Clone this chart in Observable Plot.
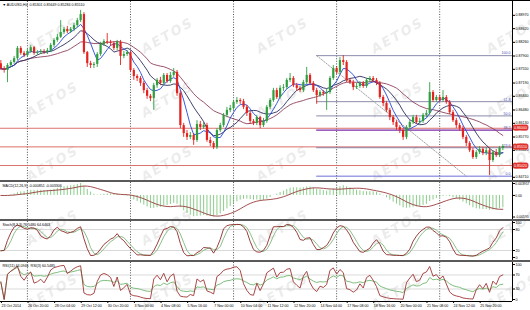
<!DOCTYPE html>
<html><head><meta charset="utf-8">
<script src="https://cdn.jsdelivr.net/npm/d3@7"></script>
<script src="https://cdn.jsdelivr.net/npm/@observablehq/plot@0.6"></script>
<style>
body{margin:0;background:#fff;}
#wrap{position:relative;width:530px;height:310px;overflow:hidden;font-family:"Liberation Sans",Arial,sans-serif;}
#wm{position:absolute;left:0;top:0;}
#panels{position:absolute;left:0;top:0;width:530px;}
#panels svg{display:block;}
</style></head><body>
<div id="wrap">
<svg id="wm" width="530" height="310"><defs><pattern id="aet" width="115" height="64" patternUnits="userSpaceOnUse"><text x="57" y="37" text-anchor="middle" transform="rotate(-30 57 32) skewX(-10)" font-family="DejaVu Sans" font-size="13" font-weight="bold" fill="#ececec" letter-spacing="2">AETOS</text></pattern></defs><rect width="530" height="310" fill="url(#aet)"/></svg>
<div id="panels"></div>
</div>
<script>
// ---- data (AUDUSD H4) ----
const firstOpen = 0.8770;
const closes = [0.8757,0.8752,0.8765,0.8773,0.8783,0.8810,0.8797,0.8791,0.8802,0.8812,
0.8797,0.8799,0.8802,0.8799,0.8804,0.8818,0.8831,0.8839,0.8852,0.8860,
0.8854,0.8860,0.8870,0.8883,0.8899,0.8799,0.8770,0.8765,0.8768,0.8794,
0.8820,0.8828,0.8826,0.8823,0.8810,0.8826,0.8789,0.8794,0.8799,0.8752,
0.8736,0.8731,0.8718,0.8699,0.8684,0.8678,0.8712,0.8726,0.8718,0.8739,
0.8723,0.8739,0.8747,0.8691,0.8607,0.8586,0.8576,0.8581,0.8568,0.8610,
0.8602,0.8607,0.8568,0.8560,0.8549,0.8594,0.8607,0.8634,0.8647,0.8652,
0.8668,0.8673,0.8670,0.8655,0.8639,0.8618,0.8613,0.8628,0.8607,0.8618,
0.8655,0.8673,0.8699,0.8681,0.8705,0.8707,0.8726,0.8731,0.8712,0.8705,
0.8699,0.8720,0.8739,0.8718,0.8699,0.8686,0.8694,0.8691,0.8694,0.8731,
0.8757,0.8747,0.8778,0.8773,0.8726,0.8720,0.8707,0.8710,0.8718,0.8710,
0.8726,0.8731,0.8726,0.8718,0.8681,0.8665,0.8647,0.8628,0.8615,0.8602,
0.8594,0.8576,0.8602,0.8615,0.8628,0.8615,0.8618,0.8634,0.8639,0.8694,
0.8673,0.8681,0.8673,0.8681,0.8668,0.8641,0.8620,0.8607,0.8599,0.8576,
0.8560,0.8541,0.8523,0.8536,0.8544,0.8534,0.8541,0.8515,0.8536,0.8528,
0.8547,0.8552];
const highs = [0.8778,0.8762,0.8770,0.8778,0.8789,0.8815,0.8815,0.8802,0.8807,0.8818,
0.8815,0.8804,0.8807,0.8807,0.8810,0.8823,0.8836,0.8847,0.8883,0.8865,
0.8868,0.8865,0.8876,0.8889,0.8910,0.8904,0.8802,0.8776,0.8773,0.8799,
0.8826,0.8833,0.8849,0.8831,0.8828,0.8831,0.8831,0.8802,0.8804,0.8802,
0.8757,0.8741,0.8736,0.8723,0.8705,0.8689,0.8718,0.8731,0.8734,0.8744,
0.8744,0.8747,0.8757,0.8752,0.8697,0.8613,0.8594,0.8589,0.8586,0.8620,
0.8618,0.8615,0.8613,0.8576,0.8565,0.8599,0.8613,0.8639,0.8655,0.8660,
0.8673,0.8681,0.8678,0.8676,0.8660,0.8644,0.8623,0.8634,0.8631,0.8626,
0.8660,0.8678,0.8705,0.8705,0.8712,0.8715,0.8731,0.8744,0.8736,0.8718,
0.8710,0.8726,0.8760,0.8744,0.8723,0.8705,0.8699,0.8699,0.8702,0.8736,
0.8765,0.8762,0.8786,0.8791,0.8778,0.8731,0.8726,0.8718,0.8723,0.8723,
0.8731,0.8736,0.8736,0.8731,0.8723,0.8686,0.8670,0.8652,0.8634,0.8620,
0.8607,0.8599,0.8607,0.8620,0.8634,0.8634,0.8626,0.8639,0.8647,0.8720,
0.8699,0.8686,0.8686,0.8699,0.8686,0.8673,0.8647,0.8626,0.8613,0.8605,
0.8581,0.8565,0.8547,0.8541,0.8552,0.8549,0.8549,0.8547,0.8541,0.8544,
0.8552,0.8557];
const lows = [0.8752,0.8745,0.8720,0.8760,0.8768,0.8778,0.8792,0.8786,0.8786,0.8797,
0.8792,0.8792,0.8794,0.8794,0.8794,0.8799,0.8812,0.8826,0.8836,0.8847,
0.8849,0.8849,0.8854,0.8865,0.8878,0.8794,0.8760,0.8757,0.8757,0.8760,
0.8789,0.8815,0.8820,0.8815,0.8804,0.8804,0.8765,0.8783,0.8789,0.8747,
0.8726,0.8723,0.8710,0.8691,0.8676,0.8670,0.8647,0.8705,0.8712,0.8712,
0.8718,0.8718,0.8734,0.8684,0.8599,0.8576,0.8568,0.8570,0.8555,0.8563,
0.8594,0.8597,0.8563,0.8552,0.8544,0.8544,0.8589,0.8602,0.8628,0.8641,
0.8647,0.8663,0.8663,0.8649,0.8631,0.8610,0.8607,0.8607,0.8599,0.8602,
0.8613,0.8649,0.8668,0.8676,0.8676,0.8697,0.8702,0.8720,0.8707,0.8697,
0.8694,0.8694,0.8715,0.8712,0.8694,0.8663,0.8681,0.8684,0.8647,0.8689,
0.8726,0.8741,0.8741,0.8765,0.8720,0.8715,0.8699,0.8702,0.8705,0.8705,
0.8705,0.8720,0.8720,0.8712,0.8676,0.8657,0.8641,0.8620,0.8607,0.8594,
0.8586,0.8568,0.8570,0.8597,0.8610,0.8610,0.8610,0.8613,0.8628,0.8634,
0.8668,0.8668,0.8668,0.8668,0.8663,0.8636,0.8615,0.8599,0.8592,0.8570,
0.8552,0.8536,0.8518,0.8518,0.8531,0.8528,0.8528,0.8476,0.8510,0.8523,
0.8523,0.8541];

const dateTicks = [0,8,16,24,32,40,48,56,64,72,80,88,96,104,112,120,128,136,144];
const dateLabels = ["23 Oct 2014","26 Oct 20:00","28 Oct 04:00","29 Oct 12:00","30 Oct 20:00",
"3 Nov 00:00","4 Nov 08:00","5 Nov 16:00","7 Nov 00:00","10 Nov 04:00","11 Nov 12:00",
"12 Nov 20:00","14 Nov 04:00","17 Nov 08:00","18 Nov 16:00","20 Nov 00:00","21 Nov 08:00",
"24 Nov 12:00","25 Nov 20:00"];
const weekStarts = [8,39,70,101,132];
const priceTicks = [0.8897,0.8862,0.8826,0.8790,0.8755,0.8719,0.8684,0.8648,0.8613,0.8577,0.8542,0.8471];
const hLines = [0.8600,0.8551,0.8502];
const fibHigh = 0.8791, fibLow = 0.8474, fibStartBar = 95, fibEndBar = 140;
const fibLevels = [0,23.6,38.2,50,61.8,100];
const macdTickLabels = ["0.003957","0.00","-0.00595"];
const stochTicks = [0,20,80,100];
const rsiTicks = [0,30,70,100];
const title = "\u25BC AUDUSD,H4  0.85301 0.85649 0.85284 0.85510";
const macdTitle = "MACD(12,26,9) -0.000851 -0.003306";
const stochTitle = "Stoch(8,3,3) 76.5480 64.6463";
const rsiTitle = "RSI(11) 44.0946  RSI(3) 60.5485";

// ---- derived ----
const n = closes.length;
const opens = [firstOpen, ...closes.slice(0, -1)];
const bars = d3.range(n).map(i => ({i, o: opens[i], c: closes[i],
  h: Math.max(highs[i], opens[i], closes[i]), l: Math.min(lows[i], opens[i], closes[i])}));
function ema(a, k){ const al = 2/(k+1); let e = a[0]; return a.map((v,i)=> (e = i ? al*v + (1-al)*e : v)); }
function sma(a, k){ return a.map((v,i)=> d3.mean(a.slice(Math.max(0,i-k+1), i+1))); }
const e12 = ema(closes,12), e26 = ema(closes,26);
const macd = closes.map((v,i)=> e12[i]-e26[i]);
const sig = sma(macd, 9);
const macdData = macd.map((m,i)=>({i, m, s: sig[i]}));
const mMax = d3.max(macdData, d=>Math.max(d.m,d.s)), mMin = d3.min(macdData, d=>Math.min(d.m,d.s));
function rsi(k){ let ag=0, al=0; return closes.map((c,i)=>{ if(!i) return 50; const d=c-closes[i-1];
  const g=Math.max(d,0), l=Math.max(-d,0); const p=Math.min(i,k); ag=(ag*(p-1)+g)/p; al=(al*(p-1)+l)/p;
  return al===0?100:100-100/(1+ag/al);});}
const rSlow = rsi(11), rFast = rsi(3);
const rsiData = closes.map((c,i)=>({i, a: rSlow[i], b: rFast[i]}));
const LL = bars.map((d,i)=> d3.min(bars.slice(Math.max(0,i-7),i+1), b=>b.l));
const HH = bars.map((d,i)=> d3.max(bars.slice(Math.max(0,i-7),i+1), b=>b.h));
const K = bars.map((d,i)=>{ let num=0, den=0; for(let j=Math.max(0,i-2); j<=i; j++){ num+=closes[j]-LL[j]; den+=HH[j]-LL[j]; } return den? 100*num/den : 50; });
const D = sma(K,3);
const stochData = K.map((k,i)=>({i, k, d: D[i]}));
const fibData = fibLevels.map(l => ({l, p: fibLow + (fibHigh-fibLow)*l/100}));

const xDomain = [-0.1, 153.9];
const X = {type:"linear", domain: xDomain, axis: null};
const FONT = "Liberation Sans, Arial, sans-serif";
const FS = 3.6;
const green = "#2e9e3e", red = "#e3231f";
const base = {width:530, marginLeft:0, marginRight:18, marginTop:0, marginBottom:0};
const weekRule = () => Plot.ruleX(weekStarts, {stroke:"#222", strokeDasharray:"1,1.6", strokeWidth:0.8});
const axisLine = () => Plot.ruleX([xDomain[1]], {stroke:"#000", strokeWidth:1});

const main = Plot.plot({...base, height:179, x:X,
  y:{domain:[0.84626,0.89334]}, color:{type:"identity"},
  style:`background:transparent;border-top:1px solid #000;font-family:${FONT};overflow:visible;`,
  marks:[
    weekRule(),
    Plot.ruleY(hLines, {stroke:"#d9716b", strokeWidth:1}),
    Plot.ruleY(fibData, {y:"p", x1:fibStartBar, x2:xDomain[1],
      stroke: d => d.l===38.2 ? "#7a2aa8" : d.l===0 ? "#4a4ad0" : "#6f6f95", strokeWidth: d => d.l===38.2 ? 1.4 : 0.8}),
    Plot.line([{i:fibStartBar,p:fibHigh},{i:fibEndBar,p:fibLow}], {x:"i", y:"p", stroke:"#8a8a8a", strokeDasharray:"1.5,1.5", strokeWidth:0.8}),
    Plot.lineY(bars, Plot.windowY({k:21, anchor:"end", strict:false}, {x:"i", y:"c", stroke:"#8e3f5c", strokeWidth:0.9})),
    Plot.lineY(bars, Plot.windowY({k:10, anchor:"end", strict:false}, {x:"i", y:"c", stroke:"#2c2c5e", strokeWidth:0.9})),
    Plot.lineY(bars, Plot.windowY({k:5, anchor:"end", strict:false}, {x:"i", y:"c", stroke:"#2446d6", strokeWidth:0.9})),
    Plot.ruleX(bars, {x:"i", y1:"l", y2:"h", stroke: d => d.c>=d.o ? green : red, strokeWidth:0.9}),
    Plot.ruleX(bars, {x:"i", y1:"o", y2:"c", stroke: d => d.c>=d.o ? green : red, strokeWidth:2.2}),
    axisLine(),
    Plot.axisY({anchor:"right", ticks:priceTicks, tickFormat:d3.format(".5f"), tickSize:2, tickPadding:1, fontSize:FS, label:null}),
    Plot.text(fibData, {y:"p", text: d => d.l.toFixed(1), frameAnchor:"right", dx:-2, dy:-2.3, textAnchor:"end", fill:"#4a4ab0", fontSize:FS}),
    Plot.text(hLines, {y: d=>d, text: d => d3.format(".5f")(d), frameAnchor:"right", dx:1.5, textAnchor:"start",
      fill:"#fff", stroke:"#e0302a", strokeWidth:3.2, fontSize:FS}),
    Plot.text([title], {frameAnchor:"top-left", dx:2, dy:2, textAnchor:"start", fontSize:FS, fill:"#000"})
  ]});

const macdTicks = [mMax, 0, mMin];
const macdPlot = Plot.plot({...base, height:37, x:X,
  y:{domain:[mMin, mMax], range:[34.5, 1]},
  style:`background:transparent;border-top:2px solid #5a5a5a;font-family:${FONT};overflow:visible;`,
  marks:[
    weekRule(),
    Plot.ruleX(macdData, {x:"i", y1:0, y2:"m", stroke:"#6cc06c", strokeWidth:0.8}),
    Plot.lineY(macdData, {x:"i", y:"s", stroke:"#9a3a3a", strokeWidth:0.9}),
    axisLine(),
    Plot.axisY({anchor:"right", ticks:macdTicks, tickFormat: d => macdTickLabels[macdTicks.indexOf(d)], tickSize:2, tickPadding:0.8, fontSize:3.4, label:null}),
    Plot.text([macdTitle], {frameAnchor:"top-left", dx:2, dy:1.5, textAnchor:"start", fontSize:FS, fill:"#000"})
  ]});

const stochPlot = Plot.plot({...base, height:39, x:X,
  y:{domain:[-8.57, 102.86]},
  style:`background:transparent;border-top:2px solid #5a5a5a;font-family:${FONT};overflow:visible;`,
  marks:[
    weekRule(),
    Plot.ruleY([20,80], {stroke:"#c8c8c8", strokeWidth:0.7}),
    Plot.lineY(stochData, {x:"i", y:"d", stroke:"#7fb87f", strokeWidth:0.9}),
    Plot.lineY(stochData, {x:"i", y:"k", stroke:"#8e2a2a", strokeWidth:0.9}),
    axisLine(),
    Plot.axisY({anchor:"right", ticks:stochTicks, tickSize:2, tickPadding:1, fontSize:FS, label:null}),
    Plot.text([stochTitle], {frameAnchor:"top-left", dx:2, dy:1.5, textAnchor:"start", fontSize:FS, fill:"#000"})
  ]});

const rsiYDomain = [-5.7, 105.7];
const rsiPlot = Plot.plot({...base, height:48, marginBottom:9, x:X,
  y:{domain:rsiYDomain},
  style:`background:transparent;border-top:2px solid #5a5a5a;font-family:${FONT};overflow:visible;`,
  marks:[
    weekRule(),
    Plot.ruleY([30,70], {stroke:"#c8c8c8", strokeWidth:0.7}),
    Plot.lineY(rsiData, {x:"i", y:"a", stroke:"#6fb86f", strokeWidth:0.9}),
    Plot.lineY(rsiData, {x:"i", y:"b", stroke:"#a03434", strokeWidth:0.9}),
    axisLine(),
    Plot.ruleY([rsiYDomain[0]], {stroke:"#000", strokeWidth:1}),
    Plot.axisY({anchor:"right", ticks:rsiTicks, tickSize:2, tickPadding:1, fontSize:FS, label:null}),
    Plot.axisX({anchor:"bottom", ticks:dateTicks, tickFormat: d => dateLabels[dateTicks.indexOf(d)],
      tickSize:2, tickPadding:1, textAnchor:"start", dx:0.6, fontSize:FS, label:null}),
    Plot.text([rsiTitle], {frameAnchor:"top-left", dx:2, dy:1.5, textAnchor:"start", fontSize:FS, fill:"#000"})
  ]});

const panels = document.getElementById("panels");
[main, macdPlot, stochPlot, rsiPlot].forEach(p => panels.appendChild(p));
</script>
</body></html>
